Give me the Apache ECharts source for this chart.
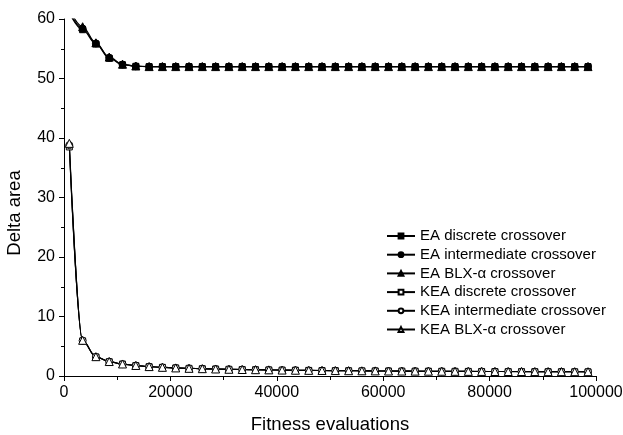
<!DOCTYPE html>
<html>
<head>
<meta charset="utf-8">
<script src="https://cdn.jsdelivr.net/npm/echarts@6/dist/echarts.min.js"></script>
<style>
html,body{margin:0;padding:0;background:#fff;}
#chart{width:623px;height:435px;}
</style>
</head>
<body>
<div id="chart"></div>
<script>
// Fitness evaluations (x) for each plotted point
const evaluations = [1000,3500,6000,8500,11000,13500,16000,18500,21000,23500,26000,28500,31000,33500,36000,38500,41000,43500,46000,48500,51000,53500,56000,58500,61000,63500,66000,68500,71000,73500,76000,78500,81000,83500,86000,88500,91000,93500,96000,98500];

// Delta area values per series
const eaDiscrete = [61.0,58.2,55.8,53.4,52.3,52.05,52.0,52.0,52.0,52.0,52.0,52.0,52.0,52.0,52.0,52.0,52.0,52.0,52.0,52.0,52.0,52.0,52.0,52.0,52.0,52.0,52.0,52.0,52.0,52.0,52.0,52.0,52.0,52.0,52.0,52.0,52.0,52.0,52.0,52.0];
const eaIntermediate = [61.2,58.4,55.9,53.5,52.35,52.05,52.0,52.0,52.0,52.0,52.0,52.0,52.0,52.0,52.0,52.0,52.0,52.0,52.0,52.0,52.0,52.0,52.0,52.0,52.0,52.0,52.0,52.0,52.0,52.0,52.0,52.0,52.0,52.0,52.0,52.0,52.0,52.0,52.0,52.0];
const eaBlx = [61.6,58.7,56.0,53.6,52.4,52.1,52.0,52.0,52.0,52.0,52.0,52.0,52.0,52.0,52.0,52.0,52.0,52.0,52.0,52.0,52.0,52.0,52.0,52.0,52.0,52.0,52.0,52.0,52.0,52.0,52.0,52.0,52.0,52.0,52.0,52.0,52.0,52.0,52.0,52.0];
const keaDiscrete = [38.5,5.9,3.2,2.4,2.0,1.75,1.56,1.45,1.35,1.28,1.22,1.17,1.12,1.08,1.05,1.02,0.99,0.96,0.94,0.92,0.90,0.88,0.86,0.85,0.83,0.82,0.81,0.80,0.79,0.78,0.77,0.76,0.75,0.74,0.74,0.73,0.72,0.72,0.71,0.70];
const keaIntermediate = [38.8,5.95,3.22,2.42,2.0,1.76,1.57,1.46,1.36,1.29,1.23,1.17,1.13,1.09,1.05,1.02,0.99,0.97,0.94,0.92,0.90,0.88,0.87,0.85,0.84,0.82,0.81,0.80,0.79,0.78,0.77,0.76,0.75,0.75,0.74,0.73,0.73,0.72,0.71,0.71];
const keaBlx = [39.1,6.0,3.25,2.43,2.02,1.77,1.58,1.46,1.36,1.29,1.23,1.18,1.13,1.09,1.06,1.03,1.0,0.97,0.95,0.93,0.91,0.89,0.87,0.86,0.84,0.83,0.82,0.81,0.80,0.79,0.78,0.77,0.76,0.75,0.75,0.74,0.73,0.73,0.72,0.72];

const seriesNames = ['EA discrete crossover','EA intermediate crossover','EA BLX-α crossover','KEA discrete crossover','KEA intermediate crossover','KEA BLX-α crossover'];
const seriesValues = [eaDiscrete, eaIntermediate, eaBlx, keaDiscrete, keaIntermediate, keaBlx];
const symbols = ['rect','circle','triangle','rect','circle','triangle'];
const filled = [true,true,true,false,false,false];

const FONT = 'Liberation Sans, Arial, sans-serif';

const chart = echarts.init(document.getElementById('chart'), null, {renderer:'canvas'});

const series = seriesNames.map((name, i) => ({
  name: name,
  type: 'line',
  data: evaluations.map((x, k) => [x, seriesValues[i][k]]),
  symbol: symbols[i],
  symbolSize: symbols[i] === 'triangle' ? 8 : (symbols[i]==='rect' ? 6 : 7),
  showAllSymbol: true,
  clip: true,
  smooth: 0.35,
  smoothMonotone: 'x',
  lineStyle: {color:'#000', width:1.1},
  itemStyle: {color: filled[i] ? '#000' : '#fff', borderColor:'#000', borderWidth:1},
  emphasis: {disabled:true},
  animation: false,
  z: filled[i] ? 3 : 2
}));

chart.setOption({
  animation: false,
  backgroundColor: '#fff',
  grid: {left:64, right:27, top:19, bottom:59, containLabel:false, outerBoundsMode:'none'},
  legend: {
    orient: 'vertical',
    left: 386,
    top: 228,
    padding: 0,
    itemWidth: 28,
    itemHeight: 6,
    itemGap: 2.7,
    data: seriesNames,
    textStyle: {fontFamily: FONT, fontSize: 15, lineHeight: 16, color:'#000'},
    inactiveColor: '#000'
  },
  xAxis: {
    type: 'value',
    min: 0, max: 100000, interval: 20000,
    name: 'Fitness evaluations',
    nameLocation: 'middle',
    nameGap: 39,
    nameTextStyle: {fontFamily: FONT, fontSize: 18.5, color:'#000'},
    axisLine: {show:true, onZero:false, lineStyle:{color:'#000', width:1}},
    axisTick: {show:true, inside:false, length:5, lineStyle:{color:'#000', width:1}},
    minorTick: {show:true, splitNumber:2, length:4, lineStyle:{color:'#000', width:1}},
    axisLabel: {fontFamily: FONT, fontSize: 16, color:'#000', margin:9, formatter: v => String(v)},
    splitLine: {show:false},
    minorSplitLine: {show:false}
  },
  yAxis: {
    type: 'value',
    min: 0, max: 60, interval: 10,
    name: 'Delta area',
    nameLocation: 'middle',
    nameGap: 40,
    nameRotate: 90,
    nameTextStyle: {fontFamily: FONT, fontSize: 18.5, color:'#000', padding:[0,31,0,0]},
    axisLine: {show:true, onZero:false, lineStyle:{color:'#000', width:1}},
    axisTick: {show:true, inside:false, length:5, lineStyle:{color:'#000', width:1}},
    minorTick: {show:true, splitNumber:2, length:3, lineStyle:{color:'#000', width:1}},
    axisLabel: {fontFamily: FONT, fontSize: 16, color:'#000', margin:9, formatter: v => String(v)},
    splitLine: {show:false},
    minorSplitLine: {show:false}
  },
  series: series
});
</script>
</body>
</html>
